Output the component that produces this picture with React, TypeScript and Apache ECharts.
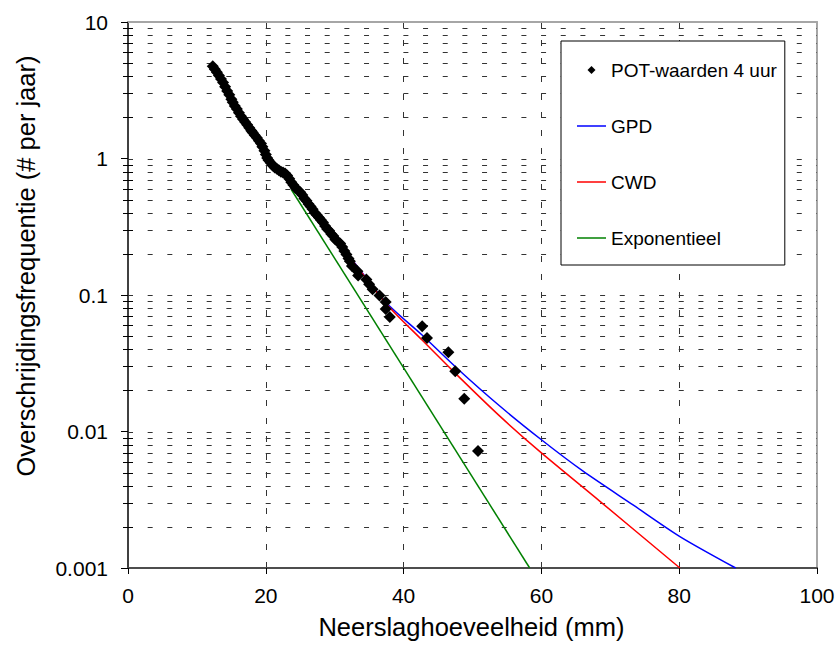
import React, { useEffect, useRef } from 'react';
import * as echarts from 'echarts';

const FONT = '"Liberation Sans", Arial, sans-serif';

const xTicks = [0, 20, 40, 60, 80, 100];
const yTickLabels = ['0.001', '0.01', '0.1', '1', '10'];

const potX = [12.3, 12.6, 12.9, 13.2, 13.5, 13.8, 14.1, 14.4, 14.7, 15.0, 15.2, 15.5, 15.8, 16.1, 16.4, 16.7, 17.0, 17.3, 17.6, 17.9, 18.1, 18.4, 18.7, 19.0, 19.3, 19.5, 19.8, 20.0, 20.2, 20.4, 20.7, 21.0, 21.3, 21.6, 21.9, 22.2, 22.5, 22.8, 23.1, 23.4, 23.7, 24.0, 24.3, 24.6, 25.0, 25.3, 25.6, 25.9, 26.2, 26.5, 26.8, 27.1, 27.4, 27.7, 28.0, 28.3, 28.6, 28.9, 29.2, 29.5, 29.8, 30.1, 30.4, 30.8, 31.1, 31.4, 31.7, 32.0, 32.2, 32.5, 33.3, 33.4, 34.6, 35.0, 35.5, 36.5, 37.4, 37.4, 38.0, 42.7, 43.4, 46.5, 47.5, 48.8, 50.8];
const potY = [4.75, 4.5, 4.28, 4.05, 3.82, 3.6, 3.36, 3.12, 2.93, 2.72, 2.58, 2.42, 2.3, 2.16, 2.04, 1.94, 1.85, 1.77, 1.68, 1.6, 1.55, 1.48, 1.42, 1.35, 1.29, 1.22, 1.14, 1.07, 1.01, 0.97, 0.93, 0.89, 0.86, 0.84, 0.82, 0.8, 0.79, 0.775, 0.75, 0.71, 0.67, 0.64, 0.61, 0.59, 0.565, 0.54, 0.51, 0.49, 0.465, 0.445, 0.425, 0.4, 0.385, 0.37, 0.355, 0.34, 0.32, 0.305, 0.295, 0.28, 0.27, 0.255, 0.248, 0.238, 0.225, 0.21, 0.198, 0.185, 0.177, 0.163, 0.149, 0.139, 0.13, 0.12, 0.11, 0.099, 0.089, 0.079, 0.069, 0.059, 0.0485, 0.038, 0.0276, 0.0174, 0.0072];

const gpdX = [24.0, 30.8, 37.5, 42.6, 47.7, 54.0, 60.0, 66.1, 73.3, 80.1, 88.2];
const gpdY = [0.6, 0.235, 0.0877, 0.0513, 0.0292, 0.0153, 0.0087, 0.0051, 0.0029, 0.0017, 0.001];

const cwdX = [24.0, 30.8, 37.5, 42.6, 47.7, 54.0, 60.0, 68.5, 80.1];
const cwdY = [0.6, 0.232, 0.086, 0.0472, 0.0261, 0.0129, 0.00697, 0.00308, 0.001];

const expX = [23.7, 58.3];
const expY = [0.593, 0.001];

const minorGridValues = [
  0.002, 0.003, 0.004, 0.005, 0.006, 0.007, 0.008, 0.009,
  0.02, 0.03, 0.04, 0.05, 0.06, 0.07, 0.08, 0.09,
  0.2, 0.3, 0.4, 0.5, 0.6, 0.7, 0.8, 0.9,
  2, 3, 4, 5, 6, 7, 8, 9,
];
const majorGridValues = [0.01, 0.1, 1];

const pairs = (xs: number[], ys: number[]) => xs.map((x, i) => [x, ys[i]]);

const LINE_ICON = 'path://M0,0 M29,8 M0,3.25 L29,3.25 L29,4.75 L0,4.75 Z';
const DIAMOND_ICON = 'path://M0,0 M29,8 M14.5,0 L18.5,4 L14.5,8 L10.5,4 Z';

export default function App() {
  const ref = useRef<HTMLDivElement>(null);

  useEffect(() => {
    if (!ref.current) return;
    const chart = echarts.init(ref.current, null, { renderer: 'svg' });

    const gridData = [
      ...minorGridValues.map((v) => [0, v, 0]),
      ...majorGridValues.map((v) => [0, v, 1]),
    ];

    const option: any = {
      animation: false,
      backgroundColor: '#fff',
      textStyle: { fontFamily: FONT },
      grid: { left: 128, right: 21, top: 22, bottom: 83, containLabel: false },
      legend: {
        orient: 'vertical',
        left: 561,
        top: 41,
        data: [
          { name: 'POT-waarden 4 uur', icon: DIAMOND_ICON },
          { name: 'GPD', icon: LINE_ICON },
          { name: 'CWD', icon: LINE_ICON },
          { name: 'Exponentieel', icon: LINE_ICON },
        ],
        itemWidth: 29,
        itemHeight: 8,
        itemGap: 36,
        padding: [19, 8, 17, 16],
        borderColor: '#000',
        borderWidth: 1,
        backgroundColor: '#fff',
        selectedMode: false,
        textStyle: { fontSize: 19, lineHeight: 20, color: '#000', fontFamily: FONT },
      },
      xAxis: [
        {
          type: 'value',
          min: xTicks[0],
          max: xTicks[xTicks.length - 1],
          interval: 20,
          position: 'bottom',
          axisLine: { show: true, onZero: false, lineStyle: { color: '#4d4d4d', width: 2 } },
          axisTick: { show: true, length: 6, lineStyle: { color: '#000', width: 1 } },
          axisLabel: { fontSize: 21, color: '#000', margin: 17, fontFamily: FONT },
          splitLine: {
            show: true,
            showMinLine: false,
            showMaxLine: false,
            lineStyle: { color: '#333', width: 1, type: [6, 12] },
          },
        },
        {
          type: 'value',
          min: 0,
          max: 100,
          position: 'top',
          axisLine: { show: true, onZero: false, lineStyle: { color: '#a6a6a6', width: 2 } },
          axisTick: { show: false },
          axisLabel: { show: false },
          splitLine: { show: false },
        },
      ],
      yAxis: [
        {
          type: 'log',
          logBase: 10,
          min: 0.001,
          max: 10,
          position: 'left',
          axisLine: { show: true, onZero: false, lineStyle: { color: '#000', width: 1.5 } },
          axisTick: { show: true, length: 7, lineStyle: { color: '#000', width: 1 } },
          axisLabel: {
            fontSize: 21,
            color: '#000',
            margin: 20,
            fontFamily: FONT,
            formatter: (v: number) => yTickLabels[Math.round(Math.log10(v)) + 3],
          },
          splitLine: { show: false },
          minorTick: { show: false },
        },
        {
          type: 'log',
          logBase: 10,
          min: 0.001,
          max: 10,
          position: 'right',
          axisLine: { show: true, onZero: false, lineStyle: { color: '#a6a6a6', width: 2 } },
          axisTick: { show: false },
          axisLabel: { show: false },
          splitLine: { show: false },
        },
      ],
      graphic: [
        {
          type: 'text',
          x: 471.5,
          y: 627,
          style: {
            text: 'Neerslaghoeveelheid (mm)',
            fontSize: 25.5,
            fontFamily: FONT,
            fill: '#000',
            textAlign: 'center',
            textVerticalAlign: 'middle',
          },
        },
        {
          type: 'text',
          x: 26,
          y: 266,
          rotation: Math.PI / 2,
          style: {
            text: 'Overschrijdingsfrequentie (# per jaar)',
            fontSize: 25.5,
            fontFamily: FONT,
            fill: '#000',
            textAlign: 'center',
            textVerticalAlign: 'middle',
          },
        },
      ],
      series: [
        {
          type: 'custom',
          silent: true,
          z: 1,
          xAxisIndex: 0,
          yAxisIndex: 0,
          data: gridData,
          renderItem: (params: any, api: any) => {
            const v = api.value(1);
            const isMajor = api.value(2) === 1;
            const p0 = api.coord([0, v]);
            const p1 = api.coord([100, v]);
            const y = Math.round(p0[1]) + 0.5;
            const children: any[] = [
              {
                type: 'line',
                shape: { x1: p0[0], y1: y, x2: p1[0], y2: y },
                style: { stroke: '#333', lineWidth: 1, lineDash: [5, 14.67] },
              },
            ];
            if (!isMajor) {
              children.push({
                type: 'line',
                shape: { x1: p0[0] - 5, y1: y, x2: p0[0] + 5, y2: y },
                style: { stroke: '#000', lineWidth: 1 },
              });
            }
            return { type: 'group', children };
          },
        },
        {
          name: 'GPD',
          type: 'line',
          z: 2,
          symbol: 'none',
          smooth: 0.25,
          data: pairs(gpdX, gpdY),
          lineStyle: { color: '#0000ff', width: 1.5 },
          itemStyle: { color: '#0000ff' },
        },
        {
          name: 'CWD',
          type: 'line',
          z: 2,
          symbol: 'none',
          smooth: 0.25,
          data: pairs(cwdX, cwdY),
          lineStyle: { color: '#ff0000', width: 1.5 },
          itemStyle: { color: '#ff0000' },
        },
        {
          name: 'Exponentieel',
          type: 'line',
          z: 2,
          symbol: 'none',
          data: pairs(expX, expY),
          lineStyle: { color: '#008000', width: 1.5 },
          itemStyle: { color: '#008000' },
        },
        {
          name: 'POT-waarden 4 uur',
          type: 'scatter',
          z: 3,
          symbol: 'diamond',
          symbolSize: 12,
          data: pairs(potX, potY),
          itemStyle: { color: '#000', opacity: 1 },
        },
      ],
    };

    chart.setOption(option);
    return () => chart.dispose();
  }, []);

  return (
    <div
      ref={ref}
      style={{ position: 'absolute', left: 0, top: 0, width: 838, height: 651 }}
    />
  );
}
